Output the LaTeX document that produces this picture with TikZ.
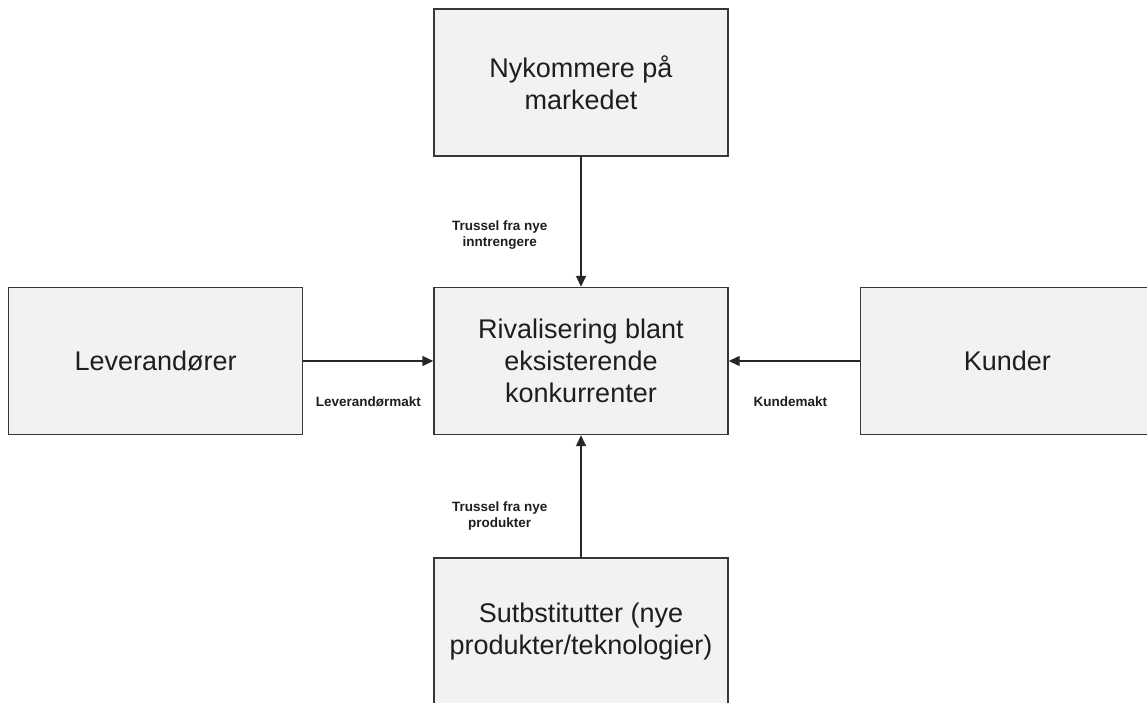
\documentclass[tikz,border=0pt]{standalone}
\usepackage{fontspec}
\setmainfont{Liberation Sans}
\usepackage{tikz}
\usetikzlibrary{arrows.meta, positioning}
\definecolor{boxfill}{RGB}{242, 242, 242}
\definecolor{boxline}{RGB}{55, 55, 55}
\definecolor{txtdark}{RGB}{30, 30, 30}

\begin{document}
\begin{tikzpicture}[
        forcebox/.style={draw=boxline, line width=1.4pt, fill=boxfill, rectangle, minimum width=294pt, minimum height=147pt, align=center, text=txtdark, font=\fontsize{27pt}{32pt}\selectfont},
        kraft/.style={-{Triangle[length=11pt, width=10pt]}, line width=1.4pt, draw=black!85},
        merk/.style={inner sep=0pt, align=center, text=txtdark, font=\fontsize{13.5pt}{16pt}\selectfont\bfseries}
    ]
        \clip (0,0) rectangle (1147pt,702pt);

        \node[forcebox] (rival) at (581pt,341pt) {Rivalisering blant\\eksisterende\\konkurrenter};
        \node[forcebox, above=130pt of rival] (nye) {Nykommere på\\markedet};
        \node[forcebox, left=130pt of rival] (lev) {Leverandører};
        \node[forcebox, right=131pt of rival] (kunde) {Kunder};
        \node[forcebox, below=122pt of rival] (subst) {Sutbstitutter (nye\\produkter/teknologier)};

        \draw[kraft] (nye) -- node[merk, pos=0.6, left=33pt] {Trussel fra nye\\inntrengere} (rival);
        \draw[kraft] (lev) -- node[merk, midway, below=35pt] {Leverandørmakt} (rival);
        \draw[kraft] (kunde) -- node[merk, pos=0.53, below=35pt] {Kundemakt} (rival);
        \draw[kraft] (subst) -- node[merk, pos=0.34, left=33pt] {Trussel fra nye\\produkter} (rival);
    \end{tikzpicture}
\end{document}
